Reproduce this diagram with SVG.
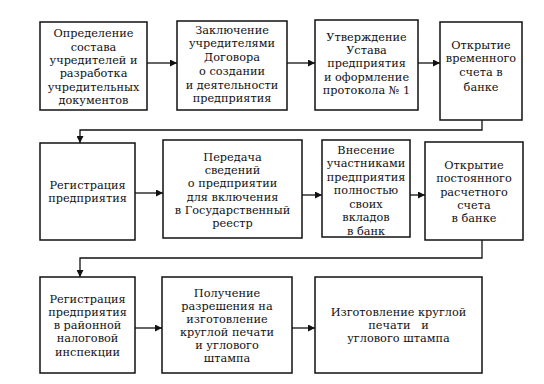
<svg xmlns="http://www.w3.org/2000/svg" width="544" height="384" viewBox="0 0 544 384">
<defs>
<style>
.box{fill:#fff;stroke:#111;stroke-width:1.5}
.t{font-family:"DejaVu Serif","Liberation Serif","Times New Roman",serif;font-size:11.3px;fill:#111;text-anchor:middle}
.c{fill:none;stroke:#111;stroke-width:1.3}
</style>
<marker id="ar" viewBox="0 0 10 10" refX="10" refY="5" markerWidth="7" markerHeight="7" orient="auto" markerUnits="userSpaceOnUse"><path d="M0,0L10,5L0,10z" fill="#111"/></marker>
</defs>
<rect width="544" height="384" fill="#fff"/>
<g id="n1"><rect class="box" x="40" y="22" width="107" height="88"/>
<text class="t"><tspan x="93.5" y="37">Определение</tspan><tspan x="93.5" y="51">состава</tspan><tspan x="93.5" y="64">учредителей и</tspan><tspan x="93.5" y="77">разработка</tspan><tspan x="93.5" y="91">учредительных</tspan><tspan x="93.5" y="104">документов</tspan></text></g>
<g id="n2"><rect class="box" x="177" y="21" width="110" height="89"/>
<text class="t"><tspan x="232" y="34">Заключение</tspan><tspan x="232" y="47">учредителями</tspan><tspan x="232" y="61">Договора</tspan><tspan x="232" y="75">о создании</tspan><tspan x="232" y="89">и деятельности</tspan><tspan x="232" y="102">предприятия</tspan></text></g>
<g id="n3"><rect class="box" x="315" y="20" width="103" height="90"/>
<text class="t"><tspan x="366.5" y="41">Утверждение</tspan><tspan x="366.5" y="54">Устава</tspan><tspan x="366.5" y="67">предприятия</tspan><tspan x="366.5" y="81">и оформление</tspan><tspan x="366.5" y="94">протокола № 1</tspan></text></g>
<g id="n4"><rect class="box" x="440" y="22" width="82" height="98"/>
<text class="t"><tspan x="481" y="49">Открытие</tspan><tspan x="481" y="62">временного</tspan><tspan x="481" y="76">счета в</tspan><tspan x="481" y="91">банке</tspan></text></g>
<g id="n5"><rect class="box" x="40" y="143" width="95" height="97"/>
<text class="t"><tspan x="87.5" y="189">Регистрация</tspan><tspan x="87.5" y="202">предприятия</tspan></text></g>
<g id="n6"><rect class="box" x="163" y="140" width="139" height="98"/>
<text class="t"><tspan x="232.5" y="161">Передача</tspan><tspan x="232.5" y="174">сведений</tspan><tspan x="232.5" y="187">о предприятии</tspan><tspan x="232.5" y="201">для включения</tspan><tspan x="232.5" y="214">в Государственный</tspan><tspan x="232.5" y="227">реестр</tspan></text></g>
<g id="n7"><rect class="box" x="322" y="140" width="88" height="97"/>
<text class="t"><tspan x="366" y="154">Внесение</tspan><tspan x="366" y="167">участниками</tspan><tspan x="366" y="181">предприятия</tspan><tspan x="366" y="194">полностью</tspan><tspan x="366" y="208">своих</tspan><tspan x="366" y="221">вкладов</tspan><tspan x="366" y="235">в банк</tspan></text></g>
<g id="n8"><rect class="box" x="425" y="142" width="98" height="98"/>
<text class="t"><tspan x="474" y="169">Открытие</tspan><tspan x="474" y="182">постоянного</tspan><tspan x="474" y="196">расчетного</tspan><tspan x="474" y="209">счета</tspan><tspan x="474" y="222">в банке</tspan></text></g>
<g id="n9"><rect class="box" x="40" y="277" width="95" height="96"/>
<text class="t"><tspan x="87.5" y="303">Регистрация</tspan><tspan x="87.5" y="316">предприятия</tspan><tspan x="87.5" y="329">в районной</tspan><tspan x="87.5" y="342">налоговой</tspan><tspan x="87.5" y="356">инспекции</tspan></text></g>
<g id="n10"><rect class="box" x="162" y="277" width="130" height="96"/>
<text class="t"><tspan x="227" y="297">Получение</tspan><tspan x="227" y="310">разрешения на</tspan><tspan x="227" y="323">изготовление</tspan><tspan x="227" y="336">круглой печати</tspan><tspan x="227" y="349">и углового</tspan><tspan x="227" y="362">штампа</tspan></text></g>
<g id="n11"><rect class="box" x="315" y="277" width="167" height="96"/>
<text class="t"><tspan x="398.5" y="316">Изготовление круглой</tspan><tspan x="398.5" y="329" xml:space="preserve">печати   и</tspan><tspan x="398.5" y="342">углового штампа</tspan></text></g>
<g id="connectors">
<line class="c" x1="147" y1="63" x2="177" y2="63" marker-end="url(#ar)"/>
<line class="c" x1="287" y1="63" x2="315" y2="63" marker-end="url(#ar)"/>
<line class="c" x1="418" y1="63" x2="440" y2="63" marker-end="url(#ar)"/>
<polyline class="c" points="482,120 482,130 80,130 80,143" marker-end="url(#ar)"/>
<line class="c" x1="135" y1="193" x2="163" y2="193" marker-end="url(#ar)"/>
<line class="c" x1="302" y1="195" x2="322" y2="195" marker-end="url(#ar)"/>
<line class="c" x1="410" y1="195" x2="425" y2="195" marker-end="url(#ar)"/>
<polyline class="c" points="482,240 482,258 80,258 80,277" marker-end="url(#ar)"/>
<line class="c" x1="135" y1="328" x2="162" y2="328" marker-end="url(#ar)"/>
<line class="c" x1="292" y1="328" x2="315" y2="328" marker-end="url(#ar)"/>
</g>
</svg>
